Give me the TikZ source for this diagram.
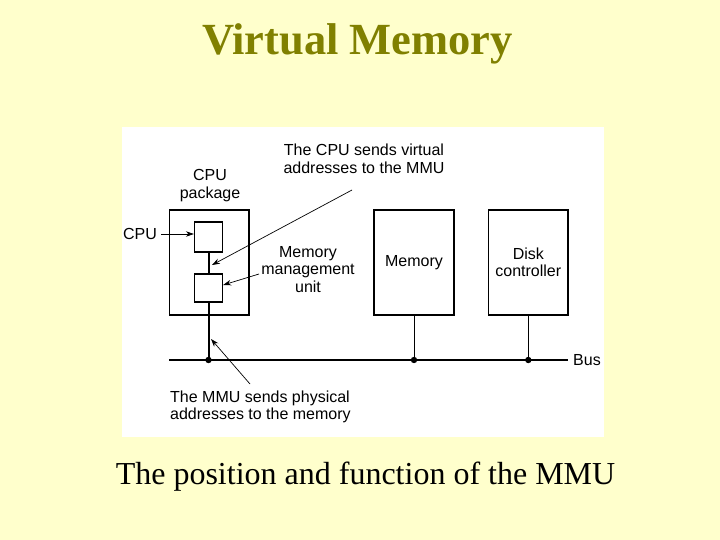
\documentclass[tikz,border=0pt]{standalone}
\usepackage{fontspec}
\setmainfont{Liberation Serif}
\setsansfont{Liberation Sans}
\usetikzlibrary{arrows.meta,positioning}

\definecolor{slidebg}{RGB}{255,255,204}
\definecolor{titleolive}{RGB}{128,128,0}

\tikzset{
  unitbox/.style={draw, line width=1.3pt, inner sep=0pt},
  lbl/.style={font=\sffamily\fontsize{16}{17.5}\selectfont, align=center, inner sep=0pt},
  pointer/.style={-{Stealth[length=8pt,width=5.5pt]}, line width=0.7pt},
  wire/.style={line width=1.3pt},
}

\begin{document}
\begin{tikzpicture}[x=1pt,y=-1pt]
    % slide background and white panel
    \fill[slidebg] (0,0) rectangle (720,540);
    \useasboundingbox (0,0) rectangle (720,540);
    \fill[white] (122,127) rectangle (604,437);

    % title and caption
    \node[anchor=base, font=\bfseries\fontsize{44.5}{50}\selectfont, text=titleolive] (title) at (357.5,55) {Virtual Memory};
    \node[anchor=base, font=\fontsize{32}{36}\selectfont] (caption) at (365.5,484.5) {The position and function of the MMU};

    % boxes
    \node[unitbox, minimum width=79.5pt, minimum height=105pt] (pkg) at (209.3,262.5) {};
    \node[unitbox, minimum width=28pt, minimum height=30pt] (cpu) at (208.5,237) {};
    \node[unitbox, minimum width=28pt, minimum height=28pt] (mmu) at (208.5,288) {};
    \node[unitbox, lbl, minimum width=80pt, minimum height=105pt] (mem) at (414,262.5) {Memory};
    \node[unitbox, lbl, minimum width=79.5pt, minimum height=105pt] (disk) at (528.3,262.5) {Disk\\controller};

    % bus
    \coordinate (busL) at (169,360);
    \coordinate (busR) at (568,360);
    \draw[wire] (busL) -- (busR);
    \node[lbl, anchor=west] (bus) at (573,360) {Bus};

    % taps onto the bus
    \draw[wire, line width=2pt] (cpu.south) -- (mmu.north);
    \draw[wire, line width=2pt] (mmu.south) -- (mmu.south |- busL);
    \draw[line width=1pt] (mem.south) -- (mem.south |- busL);
    \draw[wire] (disk.south) -- (disk.south |- busL);
    \foreach \n in {mmu,mem,disk}
        \fill (\n.south |- busL) circle (3.2pt);

    % labels
    \node[lbl] (pkglbl) at (210,185.5) {CPU\\package};
    \node[lbl] (cpulbl) at (140,234) {CPU};
    \node[lbl] (mmulbl) at (308,269.5) {Memory\\management\\unit};
    \node[lbl] (virt) at (364,159) {The CPU sends virtual\\addresses to the MMU};
    \node[lbl, align=left, anchor=west] (phys) at (170,407) {The MMU sends physical\\addresses to the memory};

    % pointers
    \coordinate (virtTail) at (352,190);
    \coordinate (virtHead) at (212,265);
    \coordinate (mmuTail) at (259,274);
    \coordinate (physTail) at (250,384);
    \coordinate (physHead) at (211,339);
    \draw[pointer] ([xshift=4pt]cpulbl.east) -- (cpulbl -| cpu.west);
    \draw[pointer] (virtTail) -- (virtHead);
    \draw[pointer] (mmuTail) -- ([yshift=3pt]mmu.east);
    \draw[pointer] (physTail) -- (physHead);
\end{tikzpicture}
\end{document}
